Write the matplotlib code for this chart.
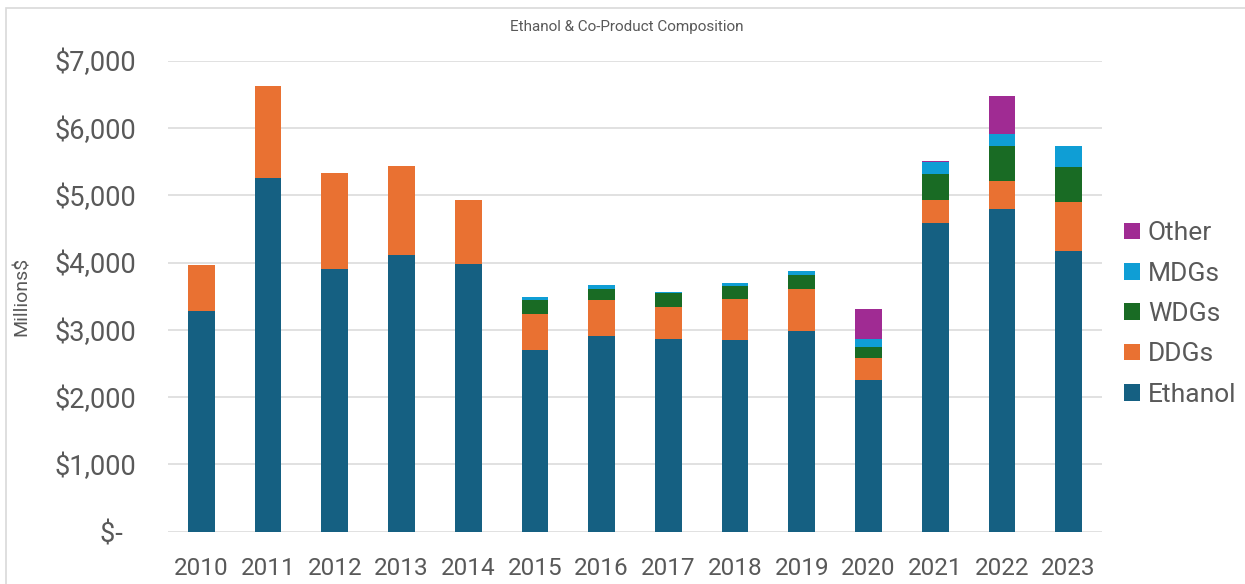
import numpy as np
import matplotlib
matplotlib.use("Agg")
import matplotlib.pyplot as plt
from matplotlib.ticker import FixedLocator, FuncFormatter
from matplotlib.patches import Rectangle

# -------------------------------
# Data (millions of dollars)
# -------------------------------
years = ["2010", "2011", "2012", "2013", "2014", "2015", "2016",
         "2017", "2018", "2019", "2020", "2021", "2022", "2023"]

ethanol = [3276, 5253, 3905, 4117, 3975, 2701, 2905,
           2865, 2845, 2979, 2255, 4588, 4792, 4168]
ddgs = [684, 1367, 1426, 1323, 960, 531, 539,
        471, 614, 633, 327, 347, 420, 732]
wdgs = [0, 0, 0, 0, 0, 212, 168,
        208, 193, 208, 164, 381, 520, 525]
mdgs = [0, 0, 0, 0, 0, 49, 51,
        15, 45, 55, 119, 174, 178, 303]
other = [0, 0, 0, 0, 0, 0, 0,
         0, 0, 0, 441, 20, 565, 0]

series = [
    ("Ethanol", ethanol, "#156082"),
    ("DDGs", ddgs, "#E97132"),
    ("WDGs", wdgs, "#196B24"),
    ("MDGs", mdgs, "#0F9ED5"),
    ("Other", other, "#A02B93"),
]

text_color = "#595959"
plt.rcParams["font.family"] = ["Roboto", "DejaVu Sans"]

# -------------------------------
# Figure and axes
# -------------------------------
fig = plt.figure(figsize=(12.45, 5.84), dpi=100)
ax = fig.add_axes([0.1349, 0.0894, 0.7502, 0.8067])

# light frame around the whole chart
fig.patches.append(Rectangle((6 / 1245, -0.1), 1.2, 1 - 8 / 584 + 0.1,
                             transform=fig.transFigure, fill=False,
                             edgecolor="#d9d9d9", linewidth=1.2))

x = np.arange(len(years))
bottom = np.zeros(len(years))
for name, values, color in series:
    vals = np.array(values, dtype=float)
    ax.bar(x, vals, width=0.4, bottom=bottom, color=color, label=name,
           zorder=3)
    bottom += vals

# -------------------------------
# Axes styling
# -------------------------------
ax.set_xlim(-0.5, len(years) - 0.5)
ax.set_ylim(0, 7000)
ax.yaxis.set_major_locator(FixedLocator(range(0, 7001, 1000)))
ax.yaxis.set_major_formatter(
    FuncFormatter(lambda v, p: "$-  " if v == 0 else f"${v:,.0f}"))
ax.set_xticks(x)
ax.set_xticklabels(years)

ax.grid(axis="y", color="#d9d9d9", linewidth=1.1, zorder=0)
for side in ["top", "right", "left", "bottom"]:
    ax.spines[side].set_visible(False)
ax.tick_params(axis="y", length=0, labelsize=19.5, labelcolor=text_color,
               pad=23)
ax.tick_params(axis="x", length=0, labelsize=17.5, labelcolor=text_color,
               pad=18)

ax.set_ylabel("Millions$", fontsize=14, color=text_color)
ax.yaxis.set_label_coords(-0.1467, 0.5)

fig.text(0.5035, 1 - 27 / 584, "Ethanol & Co-Product Composition",
         ha="center", va="center", fontsize=11, color=text_color)

# -------------------------------
# Legend (stack order reversed)
# -------------------------------
handles, labels = ax.get_legend_handles_labels()
fig.legend(handles[::-1], labels[::-1], loc="center left",
           bbox_to_anchor=(1124 / 1245, 1 - 314 / 584),
           frameon=False, fontsize=19, labelcolor=text_color,
           handlelength=0.6, handleheight=0.6, handletextpad=0.3,
           labelspacing=0.62, borderpad=0, borderaxespad=0)

plt.savefig("out.png", dpi=100)
